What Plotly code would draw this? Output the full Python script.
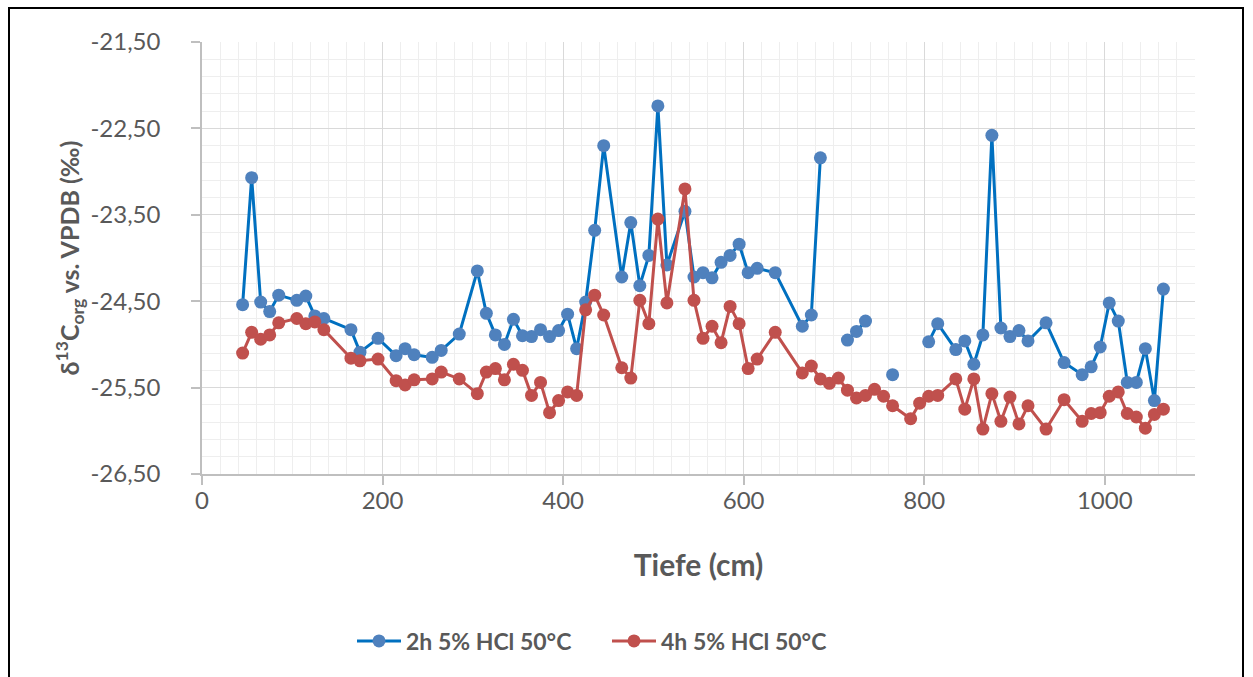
import plotly.graph_objects as go

depth = [45, 55, 65, 75, 85, 105, 115, 125, 135, 165, 175, 195, 215, 225, 235, 255, 265, 285,
         305, 315, 325, 335, 345, 355, 365, 375, 385, 395, 405, 415, 425, 435, 445, 465, 475,
         485, 495, 505, 515, 535, 545, 555, 565, 575, 585, 595, 605, 615, 635, 665, 675, 685,
         695, 705, 715, 725, 735, 745, 755, 765, 785, 795, 805, 815, 835, 845, 855, 865, 875,
         885, 895, 905, 915, 935, 955, 975, 985, 995, 1005, 1015, 1025, 1035, 1045, 1055, 1065]

hcl_2h = [-24.54, -23.07, -24.51, -24.62, -24.43, -24.49, -24.44, -24.67, -24.70, -24.83, -25.09,
          -24.93, -25.13, -25.05, -25.12, -25.15, -25.07, -24.88,
          -24.15, -24.64, -24.89, -25.00, -24.71, -24.90, -24.91, -24.83, -24.91, -24.84, -24.65,
          -25.05, -24.51, -23.68, -22.70, -24.22, -23.59,
          -24.32, -23.97, -22.24, -24.08, -23.46, -24.22, -24.17, -24.23, -24.05, -23.97, -23.84,
          -24.17, -24.12, -24.17, -24.79, -24.66, -22.84,
          None, None, -24.95, -24.85, -24.73, None, None, -25.35, None, None, -24.97, -24.76,
          -25.06, -24.96, -25.23, -24.89, -22.58,
          -24.81, -24.91, -24.84, -24.96, -24.75, -25.21, -25.35, -25.26, -25.03, -24.52, -24.73,
          -25.44, -25.44, -25.05, -25.65, -24.36]

hcl_4h = [-25.10, -24.86, -24.94, -24.89, -24.75, -24.70, -24.76, -24.74, -24.83, -25.16, -25.19,
          -25.17, -25.42, -25.47, -25.41, -25.40, -25.32, -25.40,
          -25.57, -25.32, -25.28, -25.41, -25.23, -25.30, -25.59, -25.44, -25.79, -25.65, -25.55,
          -25.59, -24.60, -24.43, -24.66, -25.27, -25.39,
          -24.49, -24.76, -23.55, -24.52, -23.20, -24.49, -24.93, -24.79, -24.98, -24.56, -24.76,
          -25.28, -25.17, -24.86, -25.33, -25.25, -25.40,
          -25.45, -25.39, -25.53, -25.62, -25.59, -25.52, -25.60, -25.71, -25.86, -25.68, -25.60,
          -25.59, -25.40, -25.75, -25.40, -25.98, -25.57,
          -25.89, -25.61, -25.92, -25.71, -25.98, -25.64, -25.89, -25.80, -25.79, -25.60, -25.55,
          -25.80, -25.84, -25.97, -25.81, -25.75]

series_names = ["2h 5% HCl 50°C", "4h 5% HCl 50°C"]
y_ticks = [-26.5, -25.5, -24.5, -23.5, -22.5, -21.5]
y_tick_labels = ["-26,50", "-25,50", "-24,50", "-23,50", "-22,50", "-21,50"]
x_ticks = [0, 200, 400, 600, 800, 1000]
x_tick_labels = ["0", "200", "400", "600", "800", "1000"]

FONT = "Lato"
GRAY = "#595959"

fig = go.Figure()
fig.add_trace(go.Scatter(
    x=depth, y=hcl_2h, name=series_names[0], mode="lines+markers",
    line=dict(color="#0070C0", width=3),
    marker=dict(color="#4F81BD", size=13, line=dict(width=0)),
    connectgaps=False,
))
fig.add_trace(go.Scatter(
    x=depth, y=hcl_4h, name=series_names[1], mode="lines+markers",
    line=dict(color="#C0504D", width=3),
    marker=dict(color="#C0504D", size=13, line=dict(width=0)),
))

W, H = 1253, 677
L, R, T, B = 202, 58, 42, 203
pw, ph = W - L - R, H - T - B


def px_x(p):
    return (p - L) / pw


def px_y(p):
    return (H - B - p) / ph


fig.add_shape(type="rect", xref="paper", yref="paper",
              x0=px_x(9), x1=px_x(1243), y0=px_y(720), y1=px_y(8),
              line=dict(color="#000000", width=2), fillcolor="rgba(0,0,0,0)", layer="above")

fig.update_layout(
    width=W, height=H,
    margin=dict(l=L, r=R, t=T, b=B, autoexpand=False),
    paper_bgcolor="white", plot_bgcolor="white",
    font=dict(family=FONT, color=GRAY, size=24),
    showlegend=True,
    legend=dict(orientation="h", x=px_x(352), xanchor="left", y=px_y(641), yanchor="middle",
                font=dict(family=FONT, size=23, color=GRAY, weight="bold"),
                itemwidth=44, entrywidth=196, entrywidthmode="pixels",
                bgcolor="rgba(0,0,0,0)", traceorder="normal"),
    xaxis=dict(
        range=[0, 1100], tickvals=x_ticks, ticktext=x_tick_labels,
        showgrid=True, gridcolor="#D9D9D9", gridwidth=1,
        minor=dict(dtick=20, tick0=0, showgrid=True, gridcolor="#EEEEEE", gridwidth=1.3),
        showline=True, linecolor="#BFBFBF", linewidth=1.5,
        ticks="outside", ticklen=9, tickcolor="#BFBFBF", tickwidth=1.5,
        ticklabelstandoff=-5,
        tickfont=dict(family=FONT, size=24, color=GRAY),
        zeroline=False, automargin=False,
        title=dict(text="Tiefe (cm)", standoff=42,
                   font=dict(family=FONT, size=30, color=GRAY, weight="bold")),
    ),
    yaxis=dict(
        range=[-26.5, -21.5], tickvals=y_ticks, ticktext=y_tick_labels,
        showgrid=True, gridcolor="#D9D9D9", gridwidth=1,
        minor=dict(dtick=0.2, tick0=-21.5, showgrid=True, gridcolor="#EEEEEE", gridwidth=1.3),
        showline=True, linecolor="#BFBFBF", linewidth=1.5,
        ticks="outside", ticklen=9, tickcolor="#BFBFBF", tickwidth=1.5,
        ticklabelstandoff=26,
        tickfont=dict(family=FONT, size=24, color=GRAY),
        zeroline=False, automargin=False,
        title=dict(text="δ<sup>13</sup>C<sub>org</sub> vs. VPDB (‰)", standoff=4,
                   font=dict(family=FONT, size=25, color=GRAY, weight="bold")),
    ),
)

fig.write_html("out.html")
